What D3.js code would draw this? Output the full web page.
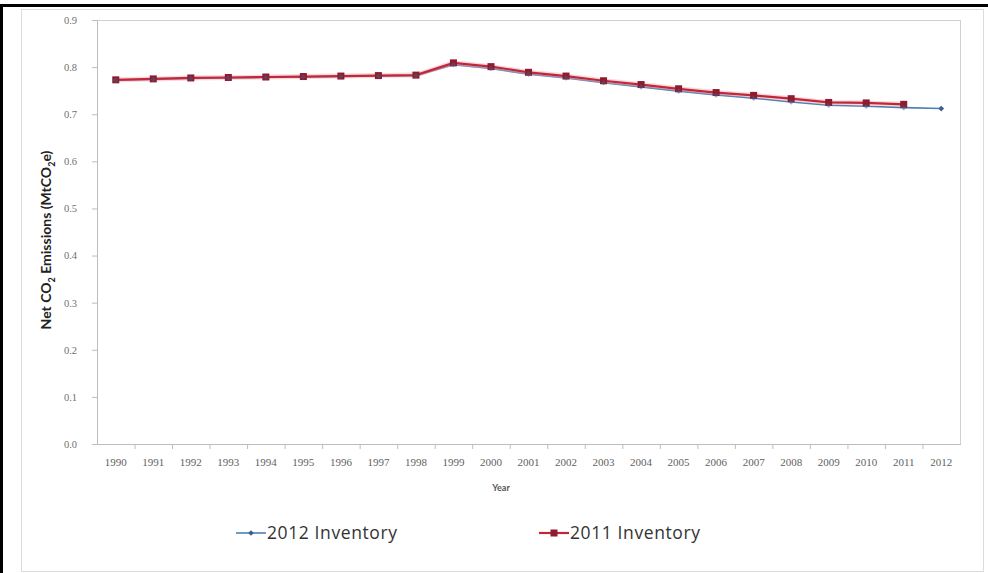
<!DOCTYPE html>
<html>
<head>
<meta charset="utf-8">
<script src="https://cdn.jsdelivr.net/npm/d3@7"></script>
<style>
  body { margin: 0; background: #fff; }
  svg { display: block; font-family: Lato, "Open Sans", sans-serif; }
</style>
</head>
<body>
<div id="chart"></div>
<script>
// years on the x axis
var years = ["1990", "1991", "1992", "1993", "1994", "1995", "1996", "1997", "1998", "1999", "2000",
    "2001", "2002", "2003", "2004", "2005", "2006", "2007", "2008", "2009", "2010", "2011", "2012"];

// Net CO2 emissions, MtCO2e
var inv2012 = [0.772, 0.774, 0.776, 0.777, 0.778, 0.779, 0.780, 0.781, 0.782, 0.805, 0.797,
    0.785, 0.777, 0.767, 0.758, 0.749, 0.741, 0.734, 0.726, 0.719, 0.717, 0.714, 0.712];
var inv2011 = [0.773, 0.775, 0.777, 0.778, 0.779, 0.780, 0.781, 0.782, 0.783, 0.809, 0.801,
    0.789, 0.781, 0.771, 0.763, 0.754, 0.746, 0.740, 0.733, 0.725, 0.724, 0.721];

var yTicks = [0, 0.1, 0.2, 0.3, 0.4, 0.5, 0.6, 0.7, 0.8, 0.9];

const W = 988, H = 573;
const margin = { top: 20, right: 28, bottom: 129, left: 97 };

const svg = d3.select("#chart").append("svg")
    .attr("width", W)
    .attr("height", H);

// outer black frame (top and left only, as in the picture)
svg.append("rect").attr("x", 0).attr("y", 4).attr("width", W).attr("height", 3).attr("fill", "#000");
svg.append("rect").attr("x", 0).attr("y", 4).attr("width", 3).attr("height", H - 4).attr("fill", "#000");

// chart area border
svg.append("rect")
    .attr("x", 21.5).attr("y", 9.5)
    .attr("width", 962).attr("height", 562)
    .attr("fill", "none")
    .attr("stroke", "#dcdcdc");

const width = W - margin.left - margin.right;
const height = H - margin.top - margin.bottom;

const g = svg.append("g")
    .attr("transform", `translate(${margin.left},${margin.top})`);

const x = d3.scaleBand()
    .domain(years)
    .range([0, width]);

const y = d3.scaleLinear()
    .domain([0, 0.9])
    .range([height, 0]);

// plot area border
g.append("rect")
    .attr("x", 0.5).attr("y", 0.5)
    .attr("width", width).attr("height", height)
    .attr("fill", "none")
    .attr("stroke", "#d0d0d0");

// y axis
const yAxis = g.append("g")
    .call(d3.axisLeft(y).tickValues(yTicks).tickFormat(d3.format(".1f")).tickSize(5).tickPadding(15));
yAxis.select(".domain").attr("stroke", "#bdbdbd");
yAxis.selectAll(".tick line").attr("stroke", "#bdbdbd");
yAxis.selectAll("text").attr("fill", "#6f6f6f").style("font-size", "10.5px").style("font-family", "Liberation Serif, serif");

// x axis, ticks sit between the categories
const xAxis = g.append("g")
    .attr("transform", `translate(0,${height})`)
    .call(d3.axisBottom(x).tickSize(0).tickPadding(14));
xAxis.select(".domain").attr("stroke", "#bdbdbd");
xAxis.selectAll("text").attr("fill", "#5f5f5f").style("font-size", "11px").style("font-family", "Liberation Serif, serif");
xAxis.selectAll(".sep")
    .data(years.slice(1))
    .enter()
    .append("line")
    .attr("class", "sep")
    .attr("x1", d => x(d) + 0.5)
    .attr("x2", d => x(d) + 0.5)
    .attr("y1", 0)
    .attr("y2", 5)
    .attr("stroke", "#bdbdbd");

// axis titles
g.append("text")
    .attr("transform", "rotate(-90)")
    .attr("x", -height / 2 - 8)
    .attr("y", -46)
    .attr("text-anchor", "middle")
    .style("font-size", "14px")
    .style("font-weight", "bold")
    .attr("fill", "#222")
    .html('Net CO<tspan dy="4" font-size="9">2</tspan><tspan dy="-4"> Emissions (MtCO</tspan><tspan dy="4" font-size="9">2</tspan><tspan dy="-4">e)</tspan>');

g.append("text")
    .attr("x", x("2000") + x.bandwidth() / 2 + 10)
    .attr("y", height + 47)
    .attr("text-anchor", "middle")
    .style("font-size", "9px")
    .style("font-weight", "bold")
    .attr("fill", "#555")
    .text("Year");

const line = d3.line()
    .x((d, i) => x(years[i]) + x.bandwidth() / 2)
    .y(d => y(d));

// 2012 inventory line (blue) sits under the red one
g.append("path")
    .datum(inv2012)
    .attr("fill", "none")
    .attr("stroke", "#4f7fb3")
    .attr("stroke-width", 1.6)
    .attr("d", line);

// 2011 inventory (red, squares)
g.append("path")
    .datum(inv2011)
    .attr("fill", "none")
    .attr("stroke", "#f2a7ad")
    .attr("stroke-width", 5)
    .attr("opacity", 0.45)
    .attr("d", line);
g.append("path")
    .datum(inv2011)
    .attr("fill", "none")
    .attr("stroke", "#c0283a")
    .attr("stroke-width", 2.2)
    .attr("d", line);
g.selectAll(".sq")
    .data(inv2011)
    .enter()
    .append("rect")
    .attr("class", "sq")
    .attr("x", (d, i) => x(years[i]) + x.bandwidth() / 2 - 3.5)
    .attr("y", d => y(d) - 3.5)
    .attr("width", 7)
    .attr("height", 7)
    .attr("fill", "#8e1b2e");

// 2012 markers (diamonds)
g.selectAll(".dm")
    .data(inv2012)
    .enter()
    .append("path")
    .attr("class", "dm")
    .attr("transform", (d, i) => `translate(${x(years[i]) + x.bandwidth() / 2},${y(d)}) rotate(45)`)
    .attr("d", "M-2,-2H2V2H-2Z")
    .attr("fill", "#3f5f8f")
    .attr("opacity", (d, i) => i < inv2011.length ? 0.5 : 1);

// legend
const legend = svg.append("g").attr("transform", "translate(0,533)");
const items = [
    { name: "2012 Inventory", x: 236, color: "#4f7fb3", mark: "#3f5f8f", shape: "diamond" },
    { name: "2011 Inventory", x: 539, color: "#c0283a", mark: "#8e1b2e", shape: "square" }
];
items.forEach(function (it) {
    legend.append("line")
        .attr("x1", it.x).attr("x2", it.x + 30)
        .attr("y1", 0).attr("y2", 0)
        .attr("stroke", it.color)
        .attr("stroke-width", it.shape === "square" ? 2.2 : 1.6);
    if (it.shape === "square") {
        legend.append("rect")
            .attr("x", it.x + 15 - 3.5).attr("y", -3.5)
            .attr("width", 7).attr("height", 7)
            .attr("fill", it.mark);
    } else {
        legend.append("path")
            .attr("transform", `translate(${it.x + 15},0) rotate(45)`)
            .attr("d", "M-2,-2H2V2H-2Z")
            .attr("fill", it.mark);
    }
    legend.append("text")
        .attr("x", it.x + 31)
        .attr("y", 6)
        .style("font-size", "17.5px")
        .style("letter-spacing", "0.6px")
        .style("font-family", "'Open Sans', sans-serif")
        .attr("fill", "#333")
        .text(it.name);
});
</script>
</body>
</html>
